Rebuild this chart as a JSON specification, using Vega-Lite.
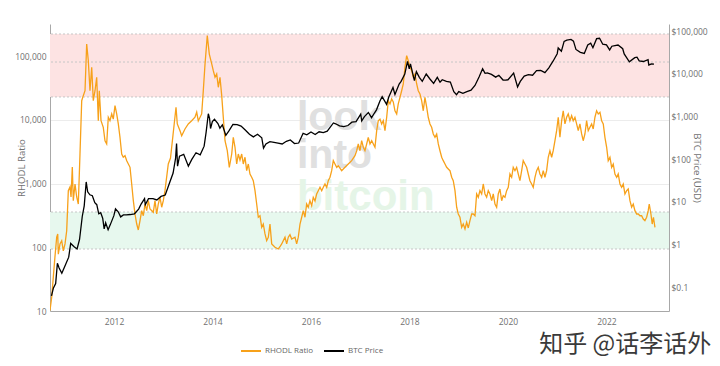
{
"$schema": "https://vega.github.io/schema/vega-lite/v6.json",
"width": 619,
"height": 287,
"autosize": {"type": "none"},
"padding": {"left": 50, "top": 24, "right": 51, "bottom": 55},
"background": "white",
"config": {
  "view": {"stroke": null},
  "font": "Open Sans",
  "axis": {"labelFont": "Open Sans", "labelFontSize": 8.5, "labelColor": "#707070", "titleFont": "Open Sans", "titleFontSize": 9.6, "titleColor": "#707070", "titleFontWeight": "normal", "domainColor": "#a8a8a8", "ticks": false, "labelFlush": false}
},
"title": {"text": "知乎 @话李话外", "orient": "bottom", "anchor": "end", "align": "right", "font": "Noto Sans CJK SC", "fontSize": 24, "fontWeight": "normal", "color": "#3a3a3a", "offset": -22, "dx": 4},
"datasets": {
  "red": [{"lo": 22900, "hi": 223000}],
  "green": [{"lo": 94, "hi": 358}],
  "levels": [{"level": 223000}, {"level": 81000}, {"level": 22900}, {"level": 358}, {"level": 94}],
  "rhodl": [
{"t":2010.700,"v":10.2},{"t":2010.735,"v":16.6},{"t":2010.767,"v":34},{"t":2010.800,"v":70},{"t":2010.836,"v":145},{"t":2010.857,"v":162},{"t":2010.869,"v":78},{"t":2010.903,"v":113},{"t":2010.938,"v":127},{"t":2010.970,"v":88},
{"t":2011.005,"v":113},{"t":2011.039,"v":182},{"t":2011.072,"v":774},{"t":2011.106,"v":885},{"t":2011.127,"v":616},{"t":2011.153,"v":1823},{"t":2011.173,"v":539},{"t":2011.208,"v":986},{"t":2011.242,"v":616},{"t":2011.275,"v":478},
{"t":2011.309,"v":2915},{"t":2011.344,"v":20000},{"t":2011.376,"v":24000},{"t":2011.411,"v":28700},{"t":2011.445,"v":155000},{"t":2011.478,"v":85000},{"t":2011.512,"v":28700},{"t":2011.547,"v":67000},{"t":2011.579,"v":20000},{"t":2011.614,"v":28700},
{"t":2011.648,"v":46700},{"t":2011.681,"v":9710},{"t":2011.701,"v":28700},{"t":2011.736,"v":9710},{"t":2011.782,"v":7650},{"t":2011.817,"v":4710},{"t":2011.851,"v":4190},{"t":2011.884,"v":11000},{"t":2011.918,"v":9710},{"t":2011.953,"v":12400},
{"t":2011.985,"v":10300},{"t":2012.020,"v":16700},{"t":2012.054,"v":12400},{"t":2012.087,"v":8630},{"t":2012.121,"v":5330},{"t":2012.156,"v":2915},{"t":2012.188,"v":2590},{"t":2012.223,"v":2740},{"t":2012.258,"v":2290},{"t":2012.325,"v":1800},
{"t":2012.359,"v":986},{"t":2012.392,"v":539},{"t":2012.426,"v":333},{"t":2012.461,"v":232},{"t":2012.493,"v":187},{"t":2012.528,"v":262},{"t":2012.562,"v":376},{"t":2012.595,"v":313},{"t":2012.629,"v":478},{"t":2012.664,"v":376},
{"t":2012.696,"v":539},{"t":2012.731,"v":399},{"t":2012.798,"v":354},{"t":2012.832,"v":539},{"t":2012.867,"v":333},{"t":2012.899,"v":478},{"t":2012.934,"v":610},{"t":2012.968,"v":425},{"t":2013.001,"v":539},{"t":2013.035,"v":774},
{"t":2013.102,"v":2030},{"t":2013.147,"v":2520},{"t":2013.198,"v":5790},{"t":2013.259,"v":15800},{"t":2013.285,"v":8630},{"t":2013.340,"v":6770},{"t":2013.374,"v":5650},{"t":2013.441,"v":7200},{"t":2013.508,"v":8630},{"t":2013.577,"v":9710},
{"t":2013.644,"v":11000},{"t":2013.679,"v":13200},{"t":2013.711,"v":9620},{"t":2013.780,"v":12400},{"t":2013.813,"v":28700},{"t":2013.848,"v":75500},{"t":2013.894,"v":210000},{"t":2013.935,"v":108000},{"t":2013.984,"v":75500},{"t":2014.016,"v":59200},
{"t":2014.051,"v":46700},{"t":2014.085,"v":52600},{"t":2014.118,"v":32500},{"t":2014.152,"v":46700},{"t":2014.187,"v":24000},{"t":2014.219,"v":11000},{"t":2014.254,"v":4710},{"t":2014.300,"v":3280},{"t":2014.341,"v":1800},{"t":2014.390,"v":2915},
{"t":2014.422,"v":5330},{"t":2014.457,"v":3715},{"t":2014.491,"v":2030},{"t":2014.524,"v":2915},{"t":2014.558,"v":2345},{"t":2014.593,"v":2915},{"t":2014.625,"v":2030},{"t":2014.660,"v":2590},{"t":2014.694,"v":1595},{"t":2014.727,"v":2030},
{"t":2014.761,"v":1415},{"t":2014.796,"v":1256},{"t":2014.828,"v":1110},{"t":2014.863,"v":774},{"t":2014.897,"v":478},{"t":2014.930,"v":296},{"t":2014.964,"v":313},{"t":2014.999,"v":206},{"t":2015.031,"v":232},{"t":2015.066,"v":162},
{"t":2015.100,"v":127},{"t":2015.133,"v":144},{"t":2015.167,"v":232},{"t":2015.202,"v":113},{"t":2015.269,"v":100},{"t":2015.336,"v":94},{"t":2015.370,"v":102},{"t":2015.405,"v":113},{"t":2015.472,"v":144},{"t":2015.506,"v":113},
{"t":2015.539,"v":144},{"t":2015.573,"v":158},{"t":2015.608,"v":135},{"t":2015.675,"v":144},{"t":2015.709,"v":113},{"t":2015.742,"v":144},{"t":2015.777,"v":232},{"t":2015.811,"v":296},{"t":2015.843,"v":376},{"t":2015.878,"v":296},
{"t":2015.912,"v":478},{"t":2015.945,"v":425},{"t":2015.979,"v":539},{"t":2016.014,"v":450},{"t":2016.046,"v":610},{"t":2016.081,"v":533},{"t":2016.115,"v":687},{"t":2016.148,"v":774},{"t":2016.183,"v":875},{"t":2016.217,"v":774},
{"t":2016.250,"v":875},{"t":2016.284,"v":986},{"t":2016.319,"v":875},{"t":2016.351,"v":1110},{"t":2016.386,"v":1256},{"t":2016.420,"v":1595},{"t":2016.453,"v":2290},{"t":2016.487,"v":2030},{"t":2016.522,"v":1800},{"t":2016.554,"v":1910},
{"t":2016.623,"v":1595},{"t":2016.690,"v":1800},{"t":2016.757,"v":2030},{"t":2016.826,"v":2290},{"t":2016.893,"v":2740},{"t":2016.928,"v":3280},{"t":2016.960,"v":4190},{"t":2016.995,"v":3280},{"t":2017.029,"v":4710},{"t":2017.062,"v":3715},
{"t":2017.096,"v":3280},{"t":2017.131,"v":4190},{"t":2017.163,"v":5330},{"t":2017.198,"v":4190},{"t":2017.232,"v":4710},{"t":2017.299,"v":3715},{"t":2017.334,"v":6770},{"t":2017.366,"v":9710},{"t":2017.401,"v":10300},{"t":2017.435,"v":8630},
{"t":2017.468,"v":9710},{"t":2017.502,"v":6770},{"t":2017.537,"v":11000},{"t":2017.569,"v":20000},{"t":2017.604,"v":17800},{"t":2017.638,"v":21300},{"t":2017.671,"v":19100},{"t":2017.705,"v":13900},{"t":2017.740,"v":12400},{"t":2017.772,"v":17800},
{"t":2017.807,"v":22600},{"t":2017.841,"v":28700},{"t":2017.874,"v":36600},{"t":2017.908,"v":67000},{"t":2017.943,"v":102000},{"t":2017.975,"v":85000},{"t":2018.010,"v":67000},{"t":2018.044,"v":59200},{"t":2018.077,"v":46700},{"t":2018.111,"v":52600},
{"t":2018.146,"v":36600},{"t":2018.178,"v":28700},{"t":2018.213,"v":25500},{"t":2018.247,"v":20000},{"t":2018.280,"v":13900},{"t":2018.314,"v":22600},{"t":2018.349,"v":15800},{"t":2018.381,"v":11000},{"t":2018.416,"v":8630},{"t":2018.450,"v":7650},
{"t":2018.483,"v":6010},{"t":2018.518,"v":5330},{"t":2018.552,"v":6010},{"t":2018.585,"v":4190},{"t":2018.619,"v":3280},{"t":2018.654,"v":2590},{"t":2018.686,"v":2290},{"t":2018.721,"v":2030},{"t":2018.755,"v":1800},{"t":2018.788,"v":1695},
{"t":2018.822,"v":1595},{"t":2018.857,"v":1256},{"t":2018.889,"v":1110},{"t":2018.924,"v":774},{"t":2018.958,"v":425},{"t":2018.991,"v":333},{"t":2019.025,"v":296},{"t":2019.060,"v":206},{"t":2019.092,"v":232},{"t":2019.127,"v":194},
{"t":2019.161,"v":247},{"t":2019.194,"v":201},{"t":2019.228,"v":262},{"t":2019.263,"v":333},{"t":2019.295,"v":333},{"t":2019.330,"v":313},{"t":2019.364,"v":687},{"t":2019.397,"v":610},{"t":2019.431,"v":774},{"t":2019.466,"v":687},
{"t":2019.498,"v":986},{"t":2019.533,"v":687},{"t":2019.567,"v":610},{"t":2019.600,"v":774},{"t":2019.634,"v":687},{"t":2019.669,"v":539},{"t":2019.701,"v":687},{"t":2019.736,"v":478},{"t":2019.770,"v":425},{"t":2019.803,"v":687},
{"t":2019.837,"v":823},{"t":2019.872,"v":539},{"t":2019.904,"v":646},{"t":2019.939,"v":610},{"t":2019.973,"v":774},{"t":2020.006,"v":875},{"t":2020.040,"v":1415},{"t":2020.075,"v":1256},{"t":2020.107,"v":1800},{"t":2020.142,"v":1595},
{"t":2020.176,"v":1800},{"t":2020.209,"v":1415},{"t":2020.243,"v":1110},{"t":2020.278,"v":1595},{"t":2020.310,"v":2290},{"t":2020.345,"v":2030},{"t":2020.379,"v":1800},{"t":2020.412,"v":1415},{"t":2020.446,"v":1110},{"t":2020.481,"v":986},
{"t":2020.513,"v":875},{"t":2020.548,"v":1256},{"t":2020.582,"v":1595},{"t":2020.615,"v":1800},{"t":2020.649,"v":1415},{"t":2020.684,"v":1256},{"t":2020.716,"v":1595},{"t":2020.751,"v":1256},{"t":2020.785,"v":1595},{"t":2020.818,"v":2590},
{"t":2020.852,"v":3280},{"t":2020.887,"v":2590},{"t":2020.919,"v":3280},{"t":2020.954,"v":4710},{"t":2020.988,"v":6770},{"t":2021.021,"v":11000},{"t":2021.055,"v":5330},{"t":2021.090,"v":9710},{"t":2021.122,"v":13900},{"t":2021.157,"v":8630},
{"t":2021.191,"v":11000},{"t":2021.224,"v":12400},{"t":2021.258,"v":9710},{"t":2021.293,"v":11640},{"t":2021.325,"v":9710},{"t":2021.360,"v":11000},{"t":2021.394,"v":8630},{"t":2021.427,"v":6770},{"t":2021.461,"v":8630},{"t":2021.496,"v":6010},
{"t":2021.528,"v":4710},{"t":2021.563,"v":6010},{"t":2021.597,"v":9710},{"t":2021.630,"v":6770},{"t":2021.664,"v":7650},{"t":2021.699,"v":8630},{"t":2021.731,"v":7200},{"t":2021.766,"v":11000},{"t":2021.800,"v":13900},{"t":2021.833,"v":12400},
{"t":2021.868,"v":13200},{"t":2021.902,"v":9710},{"t":2021.935,"v":8630},{"t":2021.969,"v":5330},{"t":2022.004,"v":3715},{"t":2022.036,"v":2290},{"t":2022.071,"v":2590},{"t":2022.105,"v":1800},{"t":2022.138,"v":2030},{"t":2022.172,"v":1415},
{"t":2022.207,"v":1256},{"t":2022.239,"v":1415},{"t":2022.274,"v":986},{"t":2022.308,"v":875},{"t":2022.341,"v":986},{"t":2022.375,"v":687},{"t":2022.410,"v":774},{"t":2022.442,"v":823},{"t":2022.477,"v":539},{"t":2022.511,"v":425},
{"t":2022.544,"v":478},{"t":2022.578,"v":376},{"t":2022.613,"v":333},{"t":2022.645,"v":333},{"t":2022.680,"v":313},{"t":2022.714,"v":313},{"t":2022.747,"v":278},{"t":2022.781,"v":262},{"t":2022.816,"v":296},{"t":2022.848,"v":376},
{"t":2022.869,"v":478},{"t":2022.903,"v":333},{"t":2022.929,"v":232},{"t":2022.954,"v":296},{"t":2022.985,"v":206}
  ],
  "btc": [
{"t":2010.73,"p":0.062},{"t":2010.77,"p":0.095},{"t":2010.815,"p":0.12},{"t":2010.85,"p":0.36},{"t":2010.885,"p":0.28},{"t":2010.94,"p":0.21},{"t":2010.997,"p":0.30},{"t":2011.08,"p":0.50},{"t":2011.12,"p":1.05},{"t":2011.19,"p":0.88},
{"t":2011.25,"p":0.78},{"t":2011.30,"p":1.3},{"t":2011.355,"p":4.5},{"t":2011.395,"p":8.0},{"t":2011.435,"p":29},{"t":2011.465,"p":17},{"t":2011.51,"p":14.5},{"t":2011.56,"p":13.8},{"t":2011.61,"p":9.5},{"t":2011.65,"p":8.5},
{"t":2011.69,"p":5.2},{"t":2011.73,"p":5.5},{"t":2011.77,"p":4.1},{"t":2011.80,"p":2.3},{"t":2011.83,"p":3.2},{"t":2011.88,"p":2.2},{"t":2011.925,"p":2.9},{"t":2011.997,"p":4.7},{"t":2012.03,"p":6.8},{"t":2012.085,"p":5.8},
{"t":2012.135,"p":4.4},{"t":2012.19,"p":4.9},{"t":2012.25,"p":4.9},{"t":2012.33,"p":5.0},{"t":2012.415,"p":5.2},{"t":2012.50,"p":6.7},{"t":2012.55,"p":8.8},{"t":2012.62,"p":11.8},{"t":2012.635,"p":8.5},{"t":2012.70,"p":11.8},
{"t":2012.79,"p":11.8},{"t":2012.87,"p":11.0},{"t":2012.955,"p":13.3},{"t":2013.04,"p":14.3},{"t":2013.125,"p":27},{"t":2013.20,"p":47},{"t":2013.25,"p":104},{"t":2013.27,"p":230},{"t":2013.29,"p":68},{"t":2013.33,"p":117},
{"t":2013.415,"p":129},{"t":2013.51,"p":68},{"t":2013.58,"p":98},{"t":2013.665,"p":140},{"t":2013.75,"p":125},{"t":2013.83,"p":200},{"t":2013.87,"p":420},{"t":2013.915,"p":1150},{"t":2013.94,"p":900},{"t":2013.96,"p":520},
{"t":2013.997,"p":750},{"t":2014.04,"p":850},{"t":2014.11,"p":680},{"t":2014.15,"p":530},{"t":2014.20,"p":630},{"t":2014.27,"p":360},{"t":2014.33,"p":450},{"t":2014.415,"p":650},{"t":2014.50,"p":640},{"t":2014.58,"p":590},
{"t":2014.665,"p":480},{"t":2014.75,"p":380},{"t":2014.83,"p":330},{"t":2014.915,"p":380},{"t":2015.0,"p":315},{"t":2015.036,"p":180},{"t":2015.085,"p":225},{"t":2015.165,"p":255},{"t":2015.25,"p":245},{"t":2015.33,"p":235},
{"t":2015.415,"p":225},{"t":2015.50,"p":260},{"t":2015.58,"p":280},{"t":2015.665,"p":230},{"t":2015.75,"p":237},{"t":2015.84,"p":400},{"t":2015.915,"p":370},{"t":2016.0,"p":430},{"t":2016.085,"p":375},{"t":2016.165,"p":435},
{"t":2016.25,"p":415},{"t":2016.33,"p":450},{"t":2016.455,"p":700},{"t":2016.50,"p":670},{"t":2016.58,"p":600},{"t":2016.665,"p":575},{"t":2016.75,"p":610},{"t":2016.83,"p":730},{"t":2016.915,"p":750},{"t":2017.01,"p":1130},
{"t":2017.03,"p":780},{"t":2017.085,"p":985},{"t":2017.165,"p":1230},{"t":2017.23,"p":930},{"t":2017.285,"p":1180},{"t":2017.33,"p":1420},{"t":2017.40,"p":2300},{"t":2017.445,"p":2900},{"t":2017.535,"p":1920},{"t":2017.58,"p":2850},
{"t":2017.665,"p":4750},{"t":2017.705,"p":3250},{"t":2017.79,"p":5700},{"t":2017.83,"p":6600},{"t":2017.905,"p":9800},{"t":2017.96,"p":19500},{"t":2017.995,"p":13000},{"t":2018.02,"p":17000},{"t":2018.10,"p":6900},{"t":2018.14,"p":11200},
{"t":2018.20,"p":8200},{"t":2018.26,"p":6600},{"t":2018.34,"p":9800},{"t":2018.415,"p":7500},{"t":2018.49,"p":5900},{"t":2018.565,"p":8200},{"t":2018.62,"p":6300},{"t":2018.665,"p":7200},{"t":2018.75,"p":6600},{"t":2018.83,"p":6350},
{"t":2018.90,"p":3800},{"t":2018.955,"p":3200},{"t":2019.0,"p":3800},{"t":2019.085,"p":3450},{"t":2019.165,"p":3800},{"t":2019.25,"p":4100},{"t":2019.33,"p":5300},{"t":2019.415,"p":8500},{"t":2019.485,"p":13000},{"t":2019.535,"p":10200},
{"t":2019.58,"p":10400},{"t":2019.665,"p":9600},{"t":2019.75,"p":8300},{"t":2019.815,"p":9200},{"t":2019.90,"p":7100},{"t":2019.955,"p":7100},{"t":2020.0,"p":7200},{"t":2020.115,"p":10300},{"t":2020.195,"p":4900},{"t":2020.25,"p":6600},
{"t":2020.33,"p":8800},{"t":2020.415,"p":9500},{"t":2020.50,"p":9200},{"t":2020.58,"p":11800},{"t":2020.665,"p":11900},{"t":2020.75,"p":10600},{"t":2020.83,"p":13700},{"t":2020.915,"p":19600},{"t":2021.0,"p":29400},{"t":2021.02,"p":40000},
{"t":2021.085,"p":33500},{"t":2021.14,"p":57000},{"t":2021.195,"p":61000},{"t":2021.28,"p":63500},{"t":2021.33,"p":57800},{"t":2021.38,"p":37000},{"t":2021.47,"p":31700},{"t":2021.55,"p":29800},{"t":2021.62,"p":47000},{"t":2021.68,"p":52000},
{"t":2021.725,"p":40500},{"t":2021.80,"p":66000},{"t":2021.86,"p":67500},{"t":2021.925,"p":49000},{"t":2022.0,"p":47500},{"t":2022.065,"p":36000},{"t":2022.11,"p":44000},{"t":2022.235,"p":47000},{"t":2022.33,"p":38500},{"t":2022.36,"p":29000},
{"t":2022.465,"p":19000},{"t":2022.575,"p":23800},{"t":2022.62,"p":24400},{"t":2022.665,"p":20000},{"t":2022.75,"p":19300},{"t":2022.845,"p":21300},{"t":2022.86,"p":16000},{"t":2022.915,"p":17000},{"t":2022.965,"p":16800}
  ]
},
"layer": [
  {
    "layer": [
      {
        "data": {"name": "red"},
        "mark": {"type": "rect", "color": "#fde3e3"},
        "encoding": {
          "y": {"field": "lo", "type": "quantitative", "title": "RHODL Ratio",
                "scale": {"type": "log", "domain": [10, 320000], "nice": false},
                "axis": {"orient": "left", "values": [10, 100, 1000, 10000, 100000], "format": ",", "grid": true, "gridColor": "#ececec", "labelPadding": 4, "titlePadding": -12}},
          "y2": {"field": "hi"}
        }
      },
      {
        "data": {"name": "green"},
        "mark": {"type": "rect", "color": "#e7f8ee"},
        "encoding": {
          "y": {"field": "lo", "type": "quantitative", "title": "RHODL Ratio"},
          "y2": {"field": "hi"}
        }
      },
      {
        "data": {"name": "levels"},
        "mark": {"type": "rule", "color": "#c6c6c6", "strokeDash": [2, 2], "strokeWidth": 1},
        "encoding": {
          "y": {"field": "level", "type": "quantitative", "title": "RHODL Ratio"}
        }
      },
      {
        "data": {"values": [{}]},
        "mark": {"type": "text", "text": "look", "align": "left", "baseline": "alphabetic", "font": "Liberation Sans", "fontWeight": "bold", "fontSize": 41, "color": "#e0e0e0"},
        "encoding": {
          "x": {"datum": 2015.715, "type": "quantitative"},
          "y": {"datum": 6935, "type": "quantitative", "title": "RHODL Ratio"}
        }
      },
      {
        "data": {"values": [{}]},
        "mark": {"type": "text", "text": "into", "align": "left", "baseline": "alphabetic", "font": "Liberation Sans", "fontWeight": "bold", "fontSize": 41, "color": "#e0e0e0"},
        "encoding": {
          "x": {"datum": 2015.715, "type": "quantitative"},
          "y": {"datum": 1758, "type": "quantitative", "title": "RHODL Ratio"}
        }
      },
      {
        "data": {"values": [{}]},
        "mark": {"type": "text", "text": "bitcoin", "align": "left", "baseline": "alphabetic", "font": "Liberation Sans", "fontWeight": "bold", "fontSize": 42, "color": "#e5f5e7"},
        "encoding": {
          "x": {"datum": 2015.715, "type": "quantitative"},
          "y": {"datum": 385, "type": "quantitative", "title": "RHODL Ratio"}
        }
      },
      {
        "data": {"name": "rhodl"},
        "mark": {"type": "line", "strokeWidth": 1.3, "clip": true},
        "encoding": {
          "x": {"field": "t", "type": "quantitative", "title": null,
                "scale": {"domain": [2010.70, 2023.27], "nice": false, "zero": false},
                "axis": {"values": [2012, 2014, 2016, 2018, 2020, 2022], "format": "d", "grid": false, "labelPadding": 6}},
          "y": {"field": "v", "type": "quantitative", "title": "RHODL Ratio"},
          "color": {"datum": "RHODL Ratio",
                    "scale": {"domain": ["RHODL Ratio", "BTC Price"], "range": ["#f7a11a", "#000000"]},
                    "legend": {"orient": "none", "legendX": 190, "legendY": 316, "direction": "horizontal", "title": null, "symbolType": "stroke", "symbolSize": 400, "symbolStrokeWidth": 2, "labelFont": "Open Sans", "labelFontSize": 8, "labelColor": "#666666", "columnPadding": 6, "labelOffset": 3}}
        }
      }
    ]
  },
  {
    "data": {"name": "btc"},
    "mark": {"type": "line", "strokeWidth": 1.3, "clip": true},
    "encoding": {
      "x": {"field": "t", "type": "quantitative"},
      "y": {"field": "p", "type": "quantitative", "title": "BTC Price (USD)",
            "scale": {"type": "log", "domain": [0.0274, 146000], "nice": false},
            "axis": {"orient": "right", "values": [0.1, 1, 10, 100, 1000, 10000, 100000], "format": "$,", "grid": false, "labelPadding": 2, "titlePadding": -16}},
      "color": {"datum": "BTC Price"}
    }
  }
],
"resolve": {"scale": {"y": "independent"}}
}
